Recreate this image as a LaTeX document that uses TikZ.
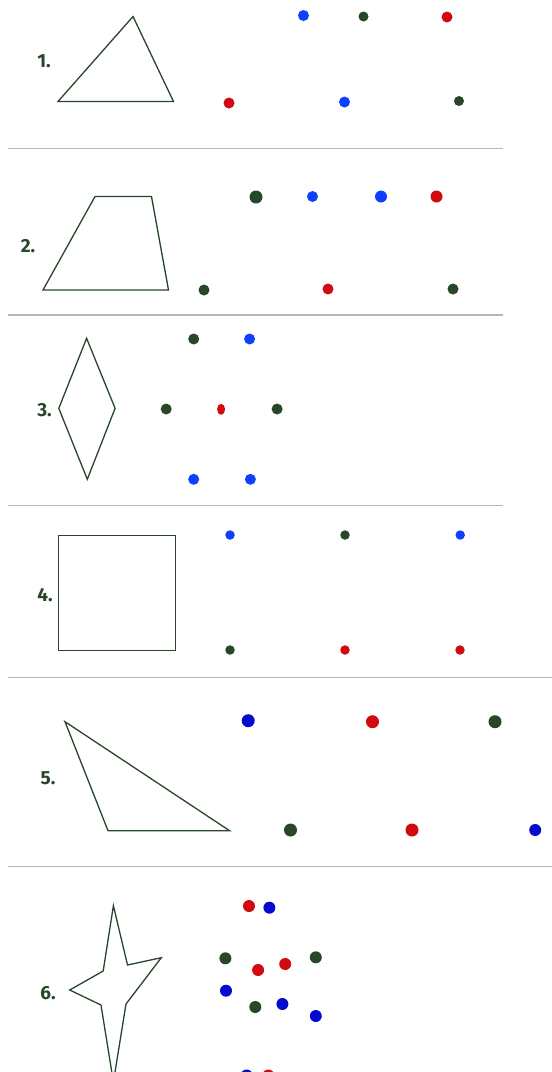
\documentclass[tikz,border=0pt]{standalone}
\usepackage{fontspec}
\setmainfont{Fira Sans}
\usepackage{tikz}
\usetikzlibrary{shapes.geometric}

\definecolor{inkgreen}{RGB}{40,70,40}
\definecolor{dotblue}{RGB}{16,64,255}
\definecolor{dotnavy}{RGB}{5,10,205}
\definecolor{dotred}{RGB}{208,10,16}
\definecolor{rulegray}{RGB}{182,182,182}

\begin{document}
\begin{tikzpicture}[
  x=1pt, y=-1pt,
  figline/.style={draw=inkgreen, line width=1.3pt, line join=miter},
  num/.style={font=\bfseries\fontsize{19}{19}\selectfont, text=inkgreen, inner sep=0pt},
  dot/.style={circle, inner sep=0pt, minimum size=11pt},
  gdot/.style={dot, fill=inkgreen},
  bdot/.style={dot, fill=dotblue},
  ndot/.style={dot, fill=dotnavy},
  rdot/.style={dot, fill=dotred},
  sepline/.style={draw=rulegray, line width=1.3pt}
]
\useasboundingbox (0,0) rectangle (552,1072);
\clip (0,0) rectangle (552,1072);

% Row 1
\node[num] (n1) at (44,61.5) {1.};
\draw[figline] (58,101.5) -- (133,16.5) -- (173.5,101.5) -- cycle;
\node[bdot] (d1a) at (303.5,15.5) {};
\node[gdot, minimum size=10pt] (d1b) at (363.5,16.5) {};
\node[rdot] (d1c) at (447,17) {};
\node[rdot] (d1d) at (229,103) {};
\node[bdot] (d1e) at (344.5,102) {};
\node[gdot, minimum size=10pt] (d1f) at (459,101) {};
\draw[sepline] (8,148.5) -- (503,148.5);

% Row 2
\node[num] (n2) at (28,246.5) {2.};
\draw[figline] (43,290) -- (95,196.5) -- (151.5,196.5) -- (168.5,290) -- cycle;
\node[gdot, minimum size=13pt] (d2a) at (256,197) {};
\node[bdot] (d2b) at (312.5,196.5) {};
\node[bdot, minimum size=12pt] (d2c) at (381,196.5) {};
\node[rdot, minimum size=12pt] (d2d) at (436.5,196.5) {};
\node[gdot] (d2e) at (204,290) {};
\node[rdot] (d2f) at (328,289) {};
\node[gdot] (d2g) at (453,289) {};
\draw[sepline] (8,315) -- (503,315);

% Row 3
\node[num] (n3) at (44.5,410) {3.};
\draw[figline] (86.6,338.3) -- (115.1,408.3) -- (87.3,479.3) -- (58.8,408.3) -- cycle;
\node[gdot] (d3a) at (193.7,339) {};
\node[bdot] (d3b) at (249.6,339) {};
\node[gdot] (d3c) at (166.2,409) {};
\node[ellipse, fill=dotred, inner sep=0pt, minimum width=8pt, minimum height=11pt] (d3d) at (221.1,409.3) {};
\node[gdot] (d3e) at (277.1,409) {};
\node[bdot] (d3f) at (193.7,479.3) {};
\node[bdot] (d3g) at (250.4,479.3) {};
\draw[sepline] (8,505.8) -- (503,505.8);

% Row 4
\node[num] (n4) at (45,595) {4.};
\draw[figline] (58.8,535.3) rectangle (175.4,650.7);
\node[bdot, minimum size=9.5pt] (d4a) at (230,535) {};
\node[gdot, minimum size=9.5pt] (d4b) at (345,535) {};
\node[bdot, minimum size=9.5pt] (d4c) at (460.2,535) {};
\node[gdot, minimum size=9.5pt] (d4d) at (230,650) {};
\node[rdot, minimum size=9.5pt] (d4e) at (345,650) {};
\node[rdot, minimum size=9.5pt] (d4f) at (460,650) {};
\draw[sepline] (8,677.7) -- (552,677.7);

% Row 5
\node[num] (n5) at (48,778.3) {5.};
\draw[figline] (65,721.7) -- (229.6,830.7) -- (108,830.7) -- cycle;
\node[ndot, minimum size=13pt] (d5a) at (248.2,720.7) {};
\node[rdot, minimum size=13pt] (d5b) at (372.5,721.7) {};
\node[gdot, minimum size=13pt] (d5c) at (495,721.7) {};
\node[gdot, minimum size=13pt] (d5d) at (290.5,830) {};
\node[rdot, minimum size=13pt] (d5e) at (412,830) {};
\node[ndot, minimum size=12pt] (d5f) at (535.2,830) {};
\draw[sepline] (8,866.7) -- (552,866.7);

% Row 6
\node[num] (n6) at (48,993.3) {6.};
\draw[figline] (113.4,905.7) -- (127.5,965) -- (161.3,957.7) -- (126,1004)
  -- (113.4,1082) -- (101,1005) -- (69.7,990) -- (103.2,971) -- cycle;
\node[rdot, minimum size=12pt] (d6a) at (249,906) {};
\node[ndot, minimum size=12pt] (d6b) at (269.4,907.7) {};
\node[gdot, minimum size=12pt] (d6c) at (225.4,958.3) {};
\node[rdot, minimum size=12pt] (d6d) at (258.1,970) {};
\node[rdot, minimum size=12pt] (d6e) at (285.2,964) {};
\node[gdot, minimum size=12pt] (d6f) at (315.8,957.3) {};
\node[ndot, minimum size=12pt] (d6g) at (226,990.7) {};
\node[gdot, minimum size=12pt] (d6h) at (255.3,1007) {};
\node[ndot, minimum size=12pt] (d6i) at (282.4,1004) {};
\node[ndot, minimum size=12pt] (d6j) at (315.8,1016) {};
\node[ndot, minimum size=12pt] (d6k) at (246.7,1075.5) {};
\node[rdot, minimum size=12pt] (d6l) at (268.3,1075.5) {};
\end{tikzpicture}
\end{document}
